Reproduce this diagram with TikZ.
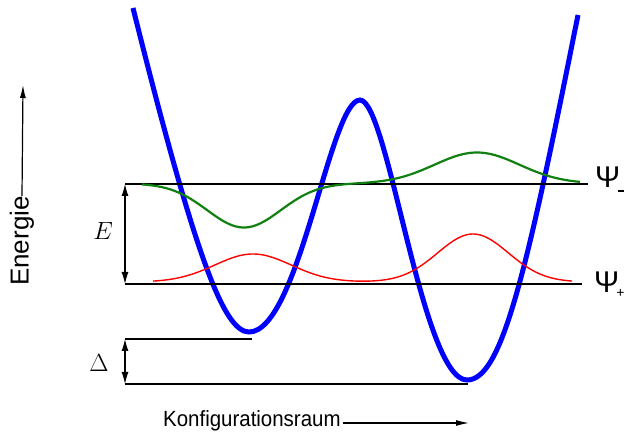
\documentclass[tikz,border=0pt]{standalone}
\usepackage{fontspec}
\setsansfont{Liberation Sans}
\usetikzlibrary{arrows.meta}
\definecolor{psigreen}{RGB}{16,128,16}

\begin{document}
\begin{tikzpicture}[x=1pt,y=-1pt,
  lev/.style={line width=1.2pt},
  dim/.style={line width=1.1pt,{Latex[length=12pt,width=7pt]}-{Latex[length=12pt,width=7pt]}},
  ax/.style={line width=1.2pt,-{Latex[length=13pt,width=6pt]}},
  pot/.style={blue,line width=5pt},
  lbl/.style={inner sep=0pt}
]
\useasboundingbox (0,0) rectangle (625,441);

% potential with two wells
\draw[pot] (133,8) .. controls (195.5,258) and (224,332) .. (249,332)
  .. controls (299,332) and (330,100) .. (360,100)
  .. controls (388,100) and (422,380) .. (467,380)
  .. controls (502,380) and (526,275) .. (578,15);

% levels
\coordinate (u1) at (125,184); \coordinate (u2) at (588,184);
\coordinate (l1) at (125,284); \coordinate (l2) at (582,284);
\coordinate (d1) at (125,339); \coordinate (d2) at (252,339);
\coordinate (b1) at (125,384); \coordinate (b2) at (468,384);
\draw[lev] (u1) -- (u2);
\draw[lev] (l1) -- (l2);
\draw[lev] (d1) -- (d2);
\draw[lev] (b1) -- (b2);
\draw[dim] (u1) -- (l1);
\draw[dim] (d1) -- (b1);

% wave functions
\draw[psigreen,line width=2.2pt] plot[domain=142:580,samples=160,smooth]
  (\x,{183.5+44*exp(-(((\x-244)/52)^2))-31*exp(-(((\x-477)/60)^2))});
\draw[red,line width=1.4pt] plot[domain=153:572,samples=160,smooth]
  (\x,{282-28*exp(-(((\x-253)/54)^2))-48*exp(-(((\x-473)/50)^2))});

% labels
\node[lbl] (E) at (103,231) {\fontsize{28}{30}\selectfont$E$};
\node[lbl] (D) at (99,363) {\fontsize{26}{30}\selectfont$\Delta$};
\node[lbl,anchor=base west] (pm) at (595,188)
  {\sffamily\fontsize{30}{32}\selectfont Ψ\kern-2pt\raisebox{-4pt}{\rule{5.5pt}{2.4pt}}};
\node[lbl,anchor=base west] (pp) at (594,293)
  {\sffamily\fontsize{30}{32}\selectfont Ψ\kern-3pt\raisebox{-5pt}{\fontsize{14}{14}\selectfont +}};

% axes
\node[lbl,rotate=90] (en) at (22,241) {\sffamily\fontsize{26}{30}\selectfont Energie};
\coordinate (et) at (23,85);
\draw[ax] (en.east) -- (et);
\node[lbl,anchor=base west] (kr) at (163,427)
  {\sffamily\fontsize{22}{26}\selectfont\scalebox{0.93}[1]{Konfigurationsraum}};
\coordinate (kt) at (469,423);
\draw[ax] (kr.east |- kt) ++(2,0) -- (kt);
\end{tikzpicture}
\end{document}
